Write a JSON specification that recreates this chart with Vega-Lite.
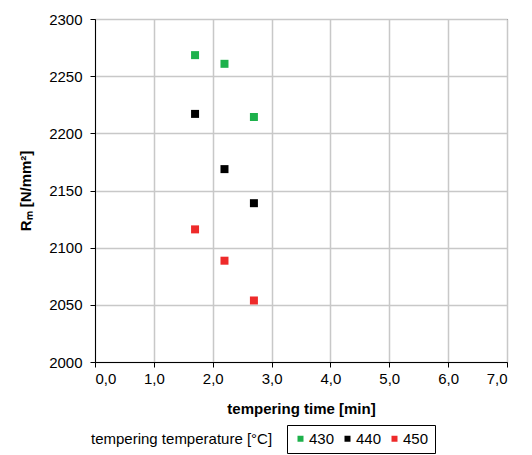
{
  "$schema": "https://vega.github.io/schema/vega-lite/v6.json",
  "autosize": "none",
  "width": 412,
  "height": 343,
  "padding": {"left": 95, "top": 19, "right": 25, "bottom": 93},
  "background": "white",
  "title": {
    "text": "tempering temperature [°C]",
    "orient": "bottom",
    "anchor": "start",
    "frame": "group",
    "font": "Liberation Sans",
    "fontSize": 15,
    "fontWeight": "normal",
    "color": "black",
    "dx": -4,
    "dy": -22,
    "offset": 0
  },
  "data": {
    "values": [
      {"time": 1.7, "Rm": 2268.4, "temp": "430"},
      {"time": 2.2, "Rm": 2260.8, "temp": "430"},
      {"time": 2.7, "Rm": 2214.3, "temp": "430"},
      {"time": 1.7, "Rm": 2217.0, "temp": "440"},
      {"time": 2.2, "Rm": 2168.7, "temp": "440"},
      {"time": 2.7, "Rm": 2138.9, "temp": "440"},
      {"time": 1.7, "Rm": 2116.0, "temp": "450"},
      {"time": 2.2, "Rm": 2088.6, "temp": "450"},
      {"time": 2.7, "Rm": 2053.8, "temp": "450"}
    ]
  },
  "mark": {"type": "square", "size": 64, "opacity": 1, "filled": true},
  "encoding": {
    "x": {
      "field": "time",
      "type": "quantitative",
      "scale": {"domain": [0, 7], "nice": false},
      "axis": {
        "title": "tempering time [min]",
        "values": [0, 1, 2, 3, 4, 5, 6, 7],
        "labelExpr": "replace(format(datum.value, '.1f'), '.', ',')",
        "titlePadding": 15
      }
    },
    "y": {
      "field": "Rm",
      "type": "quantitative",
      "scale": {"domain": [2000, 2300], "nice": false, "zero": false},
      "axis": {
        "title": "Rₘ [N/mm²]",
        "values": [2000, 2050, 2100, 2150, 2200, 2250, 2300],
        "format": "d",
        "labelPadding": 8,
        "titlePadding": 15
      }
    },
    "color": {
      "field": "temp",
      "type": "nominal",
      "scale": {"domain": ["430", "440", "450"], "range": ["#1db14b", "#000000", "#ee2a2a"]},
      "legend": {
        "title": null,
        "orient": "none",
        "legendX": 192,
        "legendY": 406,
        "direction": "horizontal",
        "strokeColor": "black",
        "padding": 6,
        "symbolType": "square",
        "symbolSize": 36,
        "symbolOpacity": 1,
        "labelFont": "Liberation Sans",
        "labelFontSize": 15,
        "labelColor": "black",
        "labelOffset": 1,
        "columnPadding": 5
      }
    }
  },
  "config": {
    "view": {"stroke": "black", "strokeWidth": 1},
    "axis": {
      "domainColor": "black",
      "tickColor": "black",
      "tickSize": 5,
      "gridColor": "#c8c8c8",
      "gridWidth": 1.5,
      "labelFont": "Liberation Sans",
      "labelFontSize": 15,
      "labelColor": "black",
      "titleFont": "Liberation Sans",
      "titleFontSize": 15,
      "titleFontWeight": "bold",
      "titleColor": "black",
      "labelPadding": 4
    }
  }
}
